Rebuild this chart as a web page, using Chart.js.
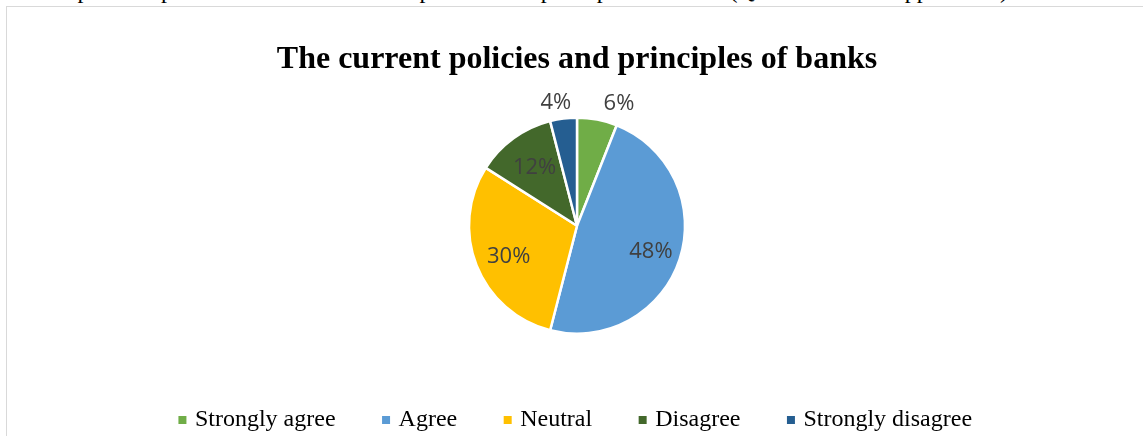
<!DOCTYPE html>
<html>
<head>
<meta charset="utf-8">
<script src="https://cdn.jsdelivr.net/npm/chart.js@4.4.0/dist/chart.umd.min.js"></script>
<style>
  body { margin: 0; background: #fff; overflow: hidden; width: 1143px; height: 436px; position: relative; }
  #caption { position: absolute; top: -22px; right: 135px; white-space: nowrap; font-family: "Liberation Serif", serif; font-size: 24px; line-height: 24px; color: #000; }
  #box { position: absolute; left: 6px; top: 6px; width: 1150px; height: 480px; border: 1px solid #d9d9d9; }
  #mychart { position: absolute; left: 0; top: 0; }
</style>
</head>
<body>
<div id="caption">Figure 8: Graphical representation of the current policies and principles of banks (Question 8 and Appendix 1)</div>
<div id="box">
  <canvas id="mychart" width="1140" height="435"></canvas>
</div>
<script>
var categories = ["Strongly agree", "Agree", "Neutral", "Disagree", "Strongly disagree"];
var values = [6, 48, 30, 12, 4];
var labelText = ["6%", "48%", "30%", "12%", "4%"];
var colors = ["#70AD47", "#5B9BD5", "#FFC000", "#43682B", "#255E91"];
var outside = [true, false, false, false, true];

// draws the % labels, using the arcs chart.js already laid out
var pctLabels = {
  id: "pctLabels",
  afterDatasetsDraw: function(chart) {
    var ctx = chart.ctx;
    var meta = chart.getDatasetMeta(0);
    ctx.save();
    ctx.font = "22px 'Open Sans'";
    ctx.fillStyle = "#404040";
    ctx.textBaseline = "middle";
    meta.data.forEach(function(arc, i) {
      var p = arc.getProps(["x", "y", "startAngle", "endAngle", "outerRadius"], true);
      var mid = (p.startAngle + p.endAngle) / 2;
      if (outside[i]) {
        var r = p.outerRadius + 18;
        var x = p.x + Math.cos(mid) * r;
        var y = p.y + Math.sin(mid) * r;
        if (Math.cos(mid) >= 0) {
          ctx.textAlign = "left";
          ctx.fillText(labelText[i], x + 3, y + 2);
        } else {
          ctx.textAlign = "right";
          ctx.fillText(labelText[i], x + 10, y + 2);
        }
      } else {
        var r2 = p.outerRadius * 0.7;
        ctx.textAlign = "center";
        ctx.fillText(labelText[i], p.x + Math.cos(mid) * r2 + 2, p.y + Math.sin(mid) * r2 + 3);
      }
    });
    ctx.restore();
  }
};

var ctx = document.getElementById("mychart");

var pie = new Chart(ctx, {
  type: "pie",
  data: {
    labels: categories,
    datasets: [
      {
        data: values,
        backgroundColor: colors,
        borderColor: "#ffffff",
        borderWidth: 2.5,
        radius: 108
      }
    ]
  },
  options: {
    responsive: false,
    devicePixelRatio: 1,
    animation: false,
    plugins: {
      title: {
        display: true,
        text: "The current policies and principles of banks",
        color: "#000",
        font: { family: "'Liberation Serif'", size: 32, weight: "bold" },
        padding: { top: 34, bottom: 14 }
      },
      legend: {
        position: "bottom",
        labels: {
          color: "#000",
          font: { family: "'Liberation Serif'", size: 24 },
          usePointStyle: true,
          pointStyle: "rect",
          boxWidth: 1,
          boxHeight: 8,
          padding: 50,
          generateLabels: function(chart) {
            var items = Chart.overrides.pie.plugins.legend.labels.generateLabels(chart);
            items.forEach(function(it) { it.lineWidth = 0; });
            return items;
          }
        }
      },
      tooltip: { enabled: false }
    }
  },
  plugins: [pctLabels]
});
</script>
</body>
</html>
